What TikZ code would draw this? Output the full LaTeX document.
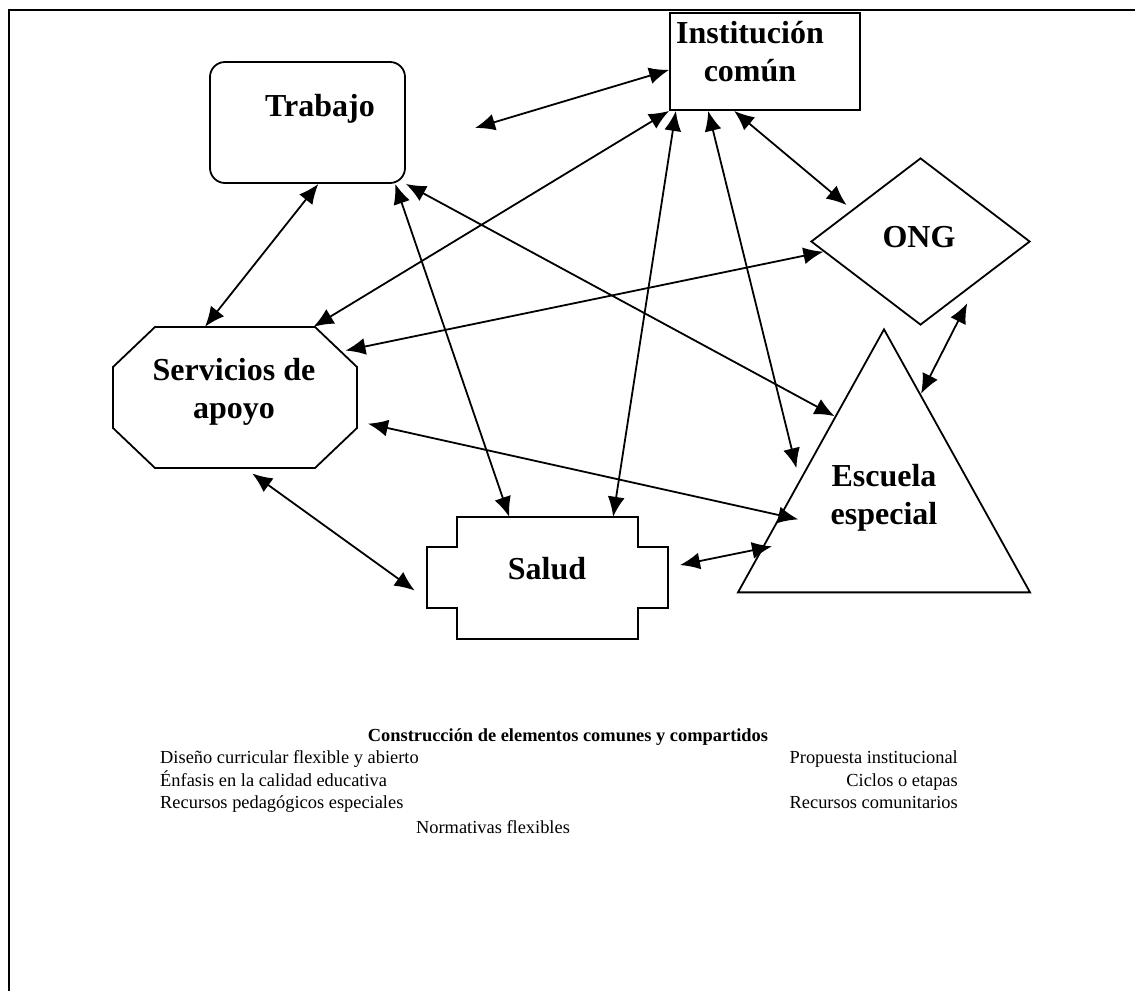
\documentclass[tikz,border=0pt]{standalone}
\usepackage{fontspec}
\setmainfont{Liberation Serif}
\usetikzlibrary{shapes.geometric,arrows.meta,calc}
\begin{document}
\begin{tikzpicture}[x=1pt,y=-1pt,
  outline/.style={draw,line width=1.8pt,inner sep=0pt},
  link/.style={line width=1.8pt,<->,>={Latex[length=20pt,width=17pt]}},
  label/.style={font=\fontsize{32}{38}\selectfont\bfseries,align=center},
  item/.style={font=\fontsize{18.4}{23}\selectfont,inner sep=0pt}]
\useasboundingbox (0,0) rectangle (1135,991);
\draw[line width=1.8pt] (9,991)--(9,10)--(1135,10);
\node[outline,rounded corners=15pt,minimum width=195pt,minimum height=121pt] (trabajo) at (307.5,122.5) {};
\node[outline,minimum width=190pt,minimum height=97pt] (inst) at (765,61.5) {};
\node[outline,diamond,minimum width=219pt,minimum height=167pt] (ong) at (920.5,241.5) {};
\node[inner sep=0pt,minimum width=244pt,minimum height=141pt] (apoyo) at (235,397.5) {};
\draw[line width=1.8pt] (155,327)--(315,327)--(357,367)--(357,428)--(315,468)--(155,468)--(113,428)--(113,367)--cycle;
\node[inner sep=0pt,minimum width=241pt,minimum height=122pt] (salud) at (547.5,578) {};
\draw[line width=1.8pt] (457,517)--(638,517)--(638,547)--(668,547)--(668,608)--(638,608)--(638,639)--(457,639)--(457,608)--(427,608)--(427,547)--(457,547)--cycle;
\node[outline,isosceles triangle,shape border rotate=90,isosceles triangle stretches,minimum width=292pt,minimum height=263pt,anchor=apex] (escuela) at (884,327) {};
\node[label] (trabajotxt) at (320,109) {Trabajo};
\node[label] (insttxt) at (750,52) {Institución\\común};
\node[label] (ongtxt) at (919,237) {ONG};
\node[label] (apoyotxt) at (234,392) {Servicios de\\apoyo};
\node[label] (saludtxt) at (547,569) {Salud};
\node[label] (escuelatxt) at (884,498) {Escuela\\especial};
\coordinate (t1) at (475,128);
\draw[link] (t1) -- (inst.185);
\draw[link] (trabajo.-80) -- (apoyo.113);
\draw[link] (trabajo.-35) -- (salud.122);
\draw[link] (trabajo.south east) -- ($(escuela.apex)!.335!(escuela.left corner)$);
\draw[link] (inst.south west) -- (apoyo.42);
\draw[link] (inst.209) -- (salud.43);
\draw[link,shorten >=12pt] (inst.221) -- ($(escuela.apex)!.574!(escuela.left corner)$);
\draw[link,shorten >=7pt] (inst.238) -- (ong.155);
\draw[link,shorten >=-12pt] (ong.186) -- (apoyo.22);
\draw[link,shorten <=24pt] (ong.-35) -- ($(escuela.apex)!.251!(escuela.right corner)$);
\draw[link,shorten <=11pt,shorten >=-19pt] (apoyo.-11) -- ($(escuela.apex)!.707!(escuela.left corner)$);
\draw[link,shorten <=9pt,shorten >=15pt] (apoyo.-82) -- (salud.190);
\draw[link,shorten <=12pt,shorten >=-11pt] (salud.5) -- ($(escuela.apex)!.832!(escuela.left corner)$);
\node[item,font=\fontsize{18.4}{23}\selectfont\bfseries,anchor=base] (titulo) at (568,741) {Construcción de elementos comunes y compartidos};
\node[item,anchor=base west] (dis) at (160,763) {Diseño curricular flexible y abierto};
\node[item,anchor=base west] (enf) at (160,786) {Énfasis en la calidad educativa};
\node[item,anchor=base west] (rped) at (160,808) {Recursos pedagógicos especiales};
\node[item,anchor=base east] (prop) at (958,763) {Propuesta institucional};
\node[item,anchor=base east] (cic) at (958,786) {Ciclos o etapas};
\node[item,anchor=base east] (rcom) at (958,808) {Recursos comunitarios};
\node[item,anchor=base] (norm) at (493,833) {Normativas flexibles};
\end{tikzpicture}
\end{document}
